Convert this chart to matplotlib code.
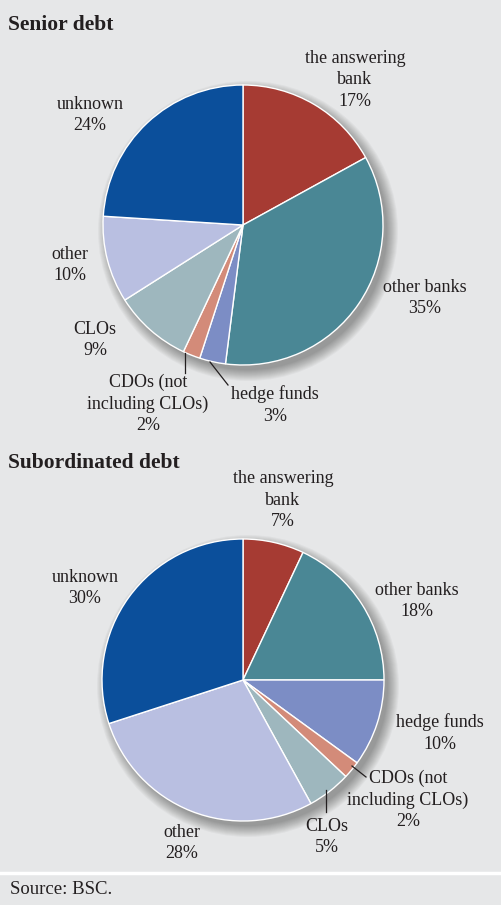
import numpy as np
import matplotlib.pyplot as plt
from matplotlib.patches import Circle

# data
labels = ["the answering\nbank", "other banks", "hedge funds",
          "CDOs (not\nincluding CLOs)", "CLOs", "other", "unknown"]
senior = [17, 35, 3, 2, 9, 10, 24]
subord = [7, 18, 10, 2, 5, 28, 30]
colors = ["#A63B33", "#4A8795", "#7C8DC5", "#D38B79", "#9EB7BE", "#B9BFE1", "#0B4F9B"]

# label positions in pixels (x, y) and leader lines
senior_lab = [(355, 80), (425, 298), (275, 405), (148, 404), (95, 340), (70, 265), (90, 115)]
subord_lab = [(283, 500), (417, 601), (440, 733), (408, 800), (327, 837), (182, 843), (85, 588)]
senior_lines = {2: [(210, 362), (228, 385)], 3: [(185, 353), (185, 373)]}
subord_lines = {3: [(352, 766), (366, 777)], 4: [(326, 790), (326, 812)]}

bg = "#E6E7E8"
ink = "#231F20"
font = "Liberation Serif"

fig = plt.figure(figsize=(5.01, 9.05), dpi=100)
fig.patch.set_facecolor(bg)
ax = fig.add_axes([0, 0, 1, 1])


# y axis runs downward (pixel coords), so counterclock=True looks clockwise
def draw(vals, cx, cy, r, labpos, lines):
    # soft shadow
    for k in range(12):
        ax.add_patch(Circle((cx + 5, cy + 6), r + 10 - k, color="k", alpha=0.03, lw=0, zorder=1))
    ax.pie(vals, colors=colors, startangle=-90, counterclock=True,
           center=(cx, cy), radius=r, frame=True,
           wedgeprops=dict(edgecolor="white", linewidth=1.0, zorder=2))
    for i, (lab, v) in enumerate(zip(labels, vals)):
        x, y = labpos[i]
        ax.text(x, y, f"{lab}\n{v}%", ha="center", va="center", fontsize=13,
                family=font, color=ink, linespacing=1.35, zorder=5)
    for i, pts in lines.items():
        (x0, y0), (x1, y1) = pts
        ax.plot([x0, x1], [y0, y1], color=ink, lw=0.9, zorder=5)


draw(senior, 243, 225, 140, senior_lab, senior_lines)
draw(subord, 243, 680, 141, subord_lab, subord_lines)
ax.set_xlim(0, 501)
ax.set_ylim(905, 0)
ax.set_aspect("equal")
ax.axis("off")

ax.text(8, 25, "Senior debt", fontsize=15.5, fontweight="bold", family=font,
        color=ink, va="center")
ax.text(8, 463, "Subordinated debt", fontsize=15.5, fontweight="bold", family=font,
        color=ink, va="center")

ax.plot([0, 501], [873, 873], color="white", lw=2.5)
ax.text(10, 889, "Source: BSC.", fontsize=13.5, family=font, color=ink, va="center")

fig.savefig("out.png", dpi=100, facecolor=bg)
